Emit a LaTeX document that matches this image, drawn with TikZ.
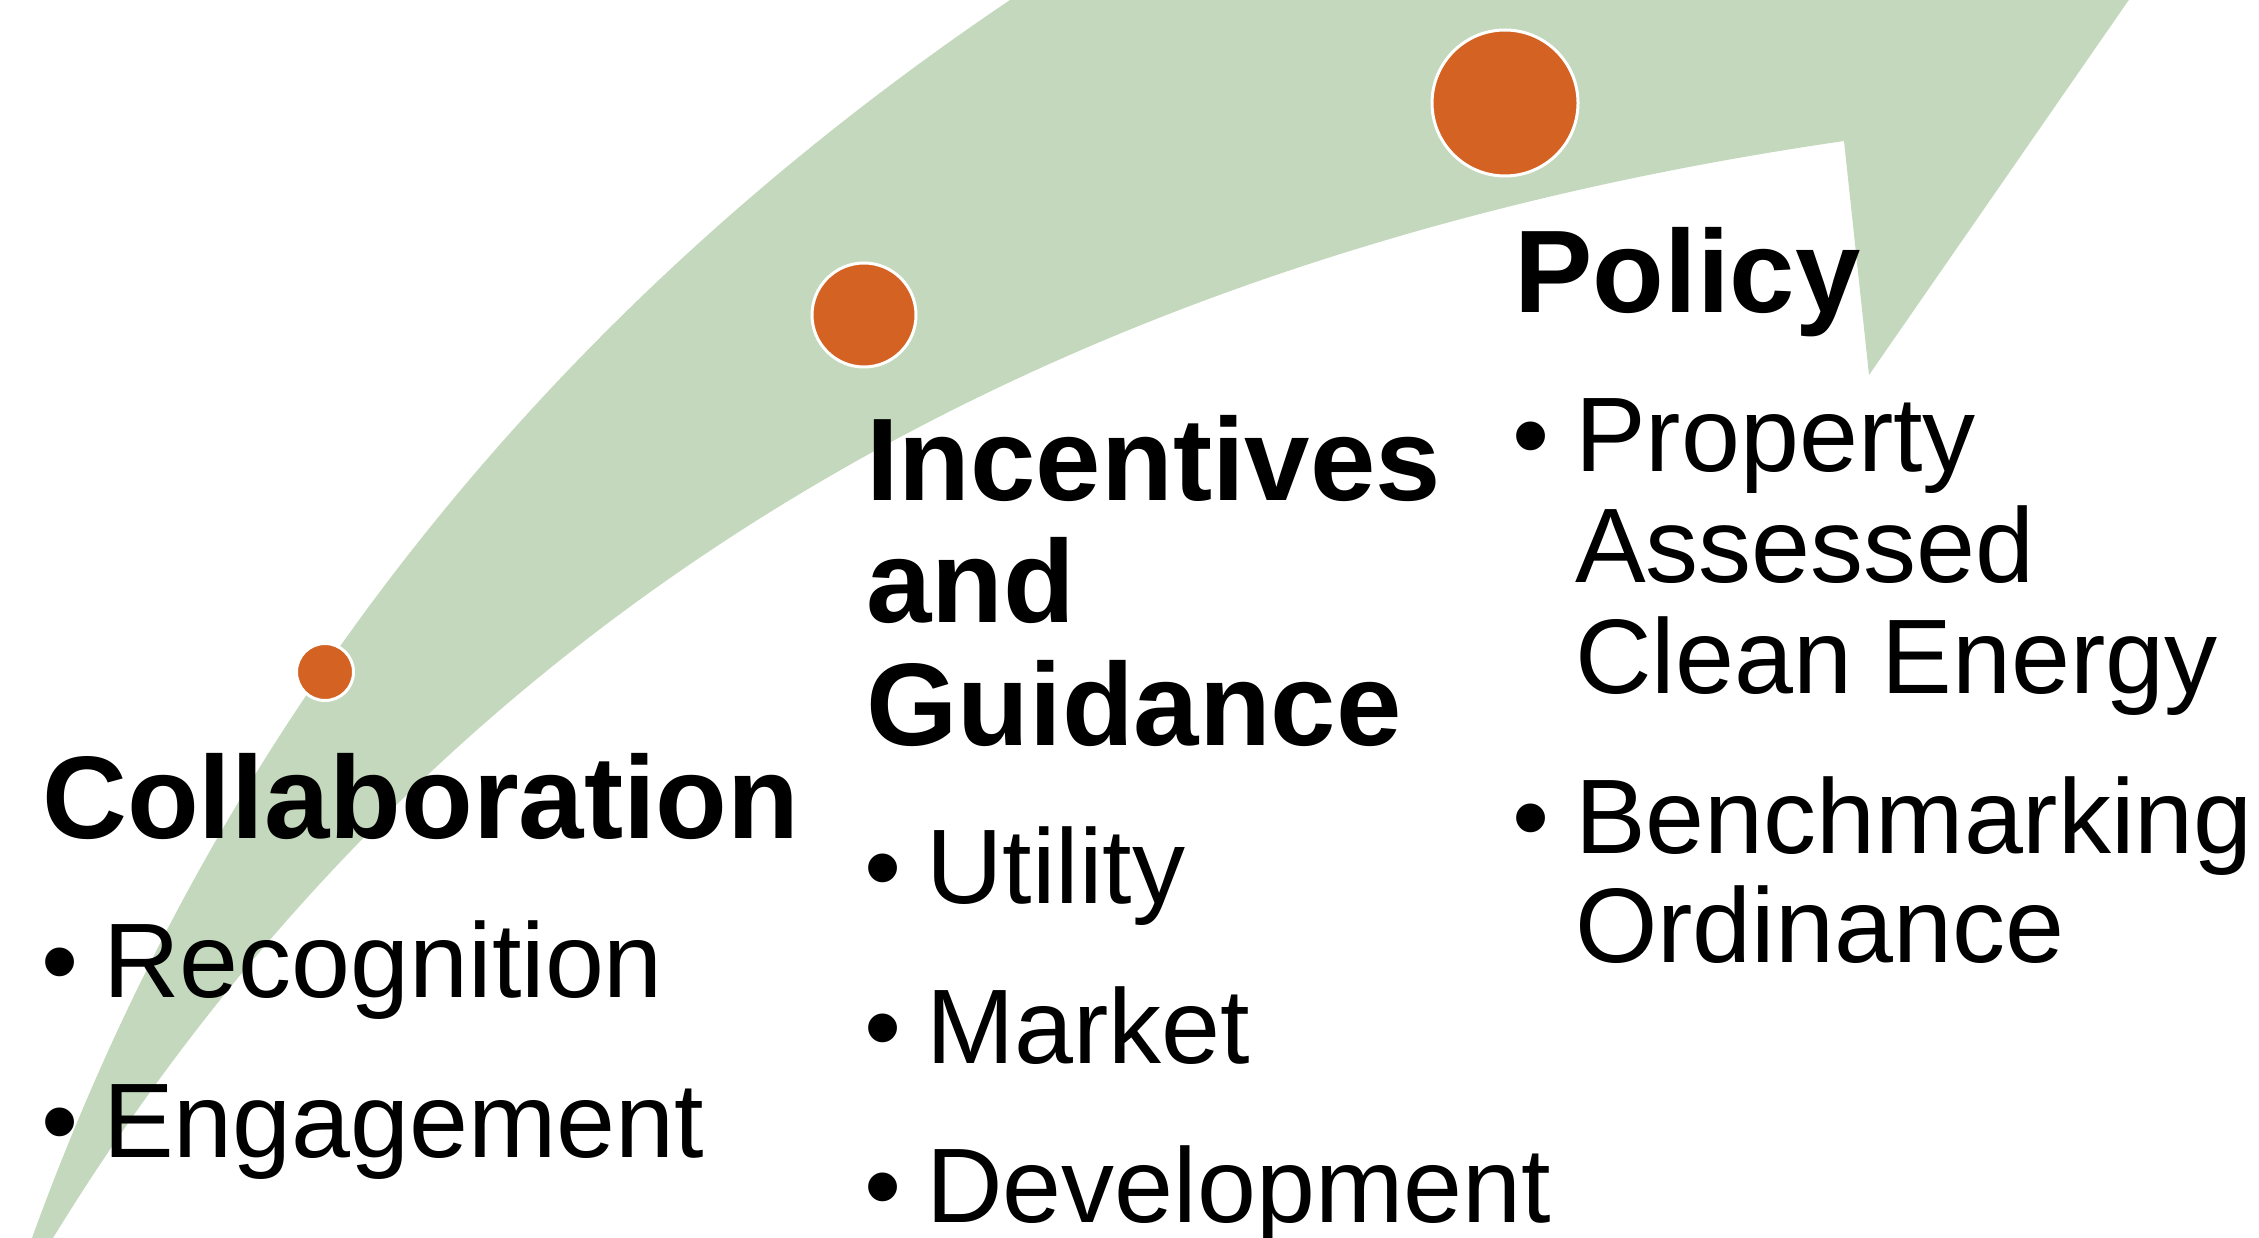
\documentclass[tikz,border=0pt]{standalone}
\usepackage{fontspec}
\setmainfont{Liberation Sans}
\definecolor{arrowgreen}{RGB}{195,216,188}
\definecolor{dotorange}{RGB}{212,98,34}
\begin{document}
\begin{tikzpicture}[x=1pt,y=-1pt,
  heading/.style={anchor=base west, inner sep=0pt, font=\fontsize{117.5}{122}\selectfont\bfseries},
  item/.style={anchor=base west, inner sep=0pt, font=\fontsize{106}{111}\selectfont},
  bulletdot/.style={anchor=base, inner sep=0pt, font=\fontsize{106}{111}\selectfont},
  milestone/.style={circle, fill=dotorange, draw=white, line width=3pt, inner sep=0pt}]
\useasboundingbox (0,0) rectangle (2259,1238);
\begin{scope}
\clip (0,0) rectangle (2259,1238);
\fill[arrowgreen] (19,1273) -- (32,1238)
  .. controls (217,728) and (543,315) .. (1010,0)
  -- (1062,-35) -- (2153,-35) -- (1869,375) -- (1844,141)
  .. controls (1026,260) and (429,625) .. (53,1238)
  -- (31,1274) -- cycle;
\end{scope}
% milestones
\node[milestone, minimum size=57pt] (c1) at (325,672) {};
\node[milestone, minimum size=104pt] (c2) at (864,315) {};
\node[milestone, minimum size=146pt] (c3) at (1505,103) {};
% Collaboration
\node[heading] (h1) at (42,838) {Collaboration};
\node[bulletdot] (b11) at (60,997) {•};
\node[item] (t11) at (103,997) {Recognition};
\node[bulletdot] (b12) at (60,1157) {•};
\node[item] (t12) at (103,1157) {Engagement};
% Incentives
\node[heading] (h2a) at (866,500) {Incentives};
\node[heading] (h2b) at (866,622) {and};
\node[heading] (h2c) at (866,745) {Guidance};
\node[bulletdot] (b21) at (883,903) {•};
\node[item] (t21) at (926,903) {Utility};
\node[bulletdot] (b22) at (883,1063) {•};
\node[item] (t22) at (926,1063) {Market};
\node[bulletdot] (b23) at (883,1222) {•};
\node[item] (t23) at (926,1222) {Development};
% Policy
\node[heading] (h3) at (1514,313) {Policy};
\node[bulletdot] (b31) at (1531,471) {•};
\node[item] (t31a) at (1575,471) {Property};
\node[item] (t31b) at (1575,582) {Assessed};
\node[item] (t31c) at (1575,693) {Clean Energy};
\node[bulletdot] (b32) at (1531,853) {•};
\node[item] (t32a) at (1575,853) {Benchmarking};
\node[item] (t32b) at (1575,962) {Ordinance};
\end{tikzpicture}
\end{document}
